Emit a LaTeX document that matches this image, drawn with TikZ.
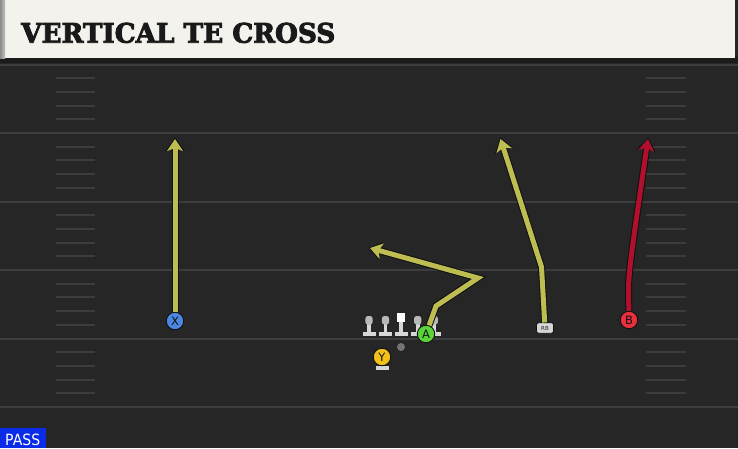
\documentclass[tikz,border=0pt]{standalone}
\usepackage{fontspec}
\usepackage{graphicx}
\usetikzlibrary{arrows.meta}
\newfontfamily\titlefont{DejaVu Serif Condensed Bold}[FakeBold=3]
\newfontfamily\labelfont{DejaVu Sans}
\definecolor{fieldbg}{HTML}{262626}
\definecolor{headerbg}{HTML}{F4F2EC}
\definecolor{headerdark}{HTML}{1B1B1B}
\definecolor{yardc}{HTML}{3D3D3D}
\definecolor{hashc}{HTML}{3C3C3C}
\definecolor{routeY}{HTML}{BDBD52}
\definecolor{routeR}{HTML}{B0102E}
\definecolor{xblue}{HTML}{4B86E0}
\definecolor{agreen}{HTML}{5BD43A}
\definecolor{yyellow}{HTML}{F2C21B}
\definecolor{bred}{HTML}{E8303F}
\definecolor{linegray}{HTML}{D6D6D6}
\definecolor{headgray}{HTML}{B8B8B8}
\definecolor{passblue}{HTML}{0A2BE8}
\definecolor{outl}{HTML}{101010}
\tikzset{
  yard/.style={draw=yardc, line width=2pt},
  hashmark/.style={draw=hashc, line width=2pt},
  player/.style={circle, minimum size=17.5pt, inner sep=0pt, draw=outl, line width=0.9pt,
    font=\labelfont\fontsize{11.5}{11.5}\selectfont, text=outl},
  routebase/.style={line width=5pt, line join=miter,
    -{Stealth[length=12pt,width=16pt,inset=3pt]},
    preaction={draw=outl, line width=7pt, -{Stealth[length=13.5pt,width=19pt,inset=3.3pt]}, shorten >=-1.4pt}},
  yroute/.style={routebase, draw=routeY},
  rroute/.style={routebase, draw=routeR},
  rbbox/.style={rectangle, rounded corners=2.5pt, fill=linegray, draw=outl, line width=0.6pt,
    minimum width=17pt, minimum height=10.5pt, inner sep=0pt,
    font=\labelfont\fontsize{5.5}{5.5}\selectfont, text=black!85},
  qbdot/.style={circle, fill=black!55, minimum size=8pt, inner sep=0pt},
  pics/lineman/.style={code={
    \fill[linegray] (-6.5,-2.2) rectangle (6.5,2.2);
    \fill[linegray] (-1.9,-13) rectangle (1.9,0);
    \fill[headgray, rounded corners=2.5pt] (-3.6,-18) rectangle (3.6,-9.5);
  }},
  pics/centerman/.style={code={
    \fill[linegray] (-6.5,-2.2) rectangle (6.5,2.2);
    \fill[linegray] (-1.9,-13) rectangle (1.9,0);
    \fill[white] (-4,-21) rectangle (4,-12.5);
  }},
}
\begin{document}
\begin{tikzpicture}[x=1pt,y=-1pt]
\useasboundingbox (0,0) rectangle (738,448);
% field
\fill[fieldbg] (0,0) rectangle (738,448);
% yard lines
\foreach \y in {64.5,133,201.5,270,338.5,407} \draw[yard] (0,\y) -- (738,\y);
% hash marks
\foreach \b in {64.5,133,201.5,270,338.5} {
  \foreach \k in {1,2,3,4} {
    \draw[hashmark] (56,{\b+13.7*\k}) -- (95,{\b+13.7*\k});
    \draw[hashmark] (646,{\b+13.7*\k}) -- (686,{\b+13.7*\k});
  }
}
% header
\fill[headerdark] (0,56) rectangle (738,63);
\fill[headerbg] (0,0) rectangle (735,58);
\fill[left color=black!45, right color=black!25] (0,0) rectangle (5,58);
\node[anchor=base west, inner sep=0pt, text=black!90] (title) at (21,42.7)
  {\resizebox{314pt}{20pt}{\titlefont VERTICAL TE CROSS}};
% linemen
\pic at (369,334) {lineman};
\pic at (385.5,334) {lineman};
\pic at (401,334) {centerman};
\pic at (417.7,334) {lineman};
\pic at (434.3,334) {lineman};
% Y base
\fill[linegray] (380.2,362) rectangle (383.8,367);
\fill[linegray] (375.5,366) rectangle (388.5,370.4);
% players
\node[player, fill=xblue] (X) at (175,321) {X};
\node[player, fill=agreen] (A) at (426,334) {A};
\node[player, fill=yyellow] (Y) at (382,357) {Y};
\node[player, fill=bred] (B) at (629,320) {B};
\node[rbbox] (RB) at (545,328) {RB};
\node[qbdot] (QB) at (401,347) {};
% route points
\coordinate (xend) at (175,139);
\coordinate (a1) at (436,306);
\coordinate (a2) at (478,278);
\coordinate (aend) at (370,248);
\coordinate (rb1) at (541.5,267);
\coordinate (rbend) at (500.5,139);
\coordinate (b1) at (628.5,292);
\coordinate (bend) at (648,139);
% routes
\draw[yroute] (X) -- (xend);
\draw[yroute] (A) -- (a1) -- (a2) -- (aend);
\draw[yroute] (RB) -- (rb1) -- (rbend);
\draw[rroute] (B) -- (b1) .. controls (628.5,272) and (631,255) .. (bend);
% pass tag
\fill[passblue] (0,427.5) rectangle (46,448);
\node[anchor=base west, inner sep=0pt, text=white] (pass) at (5,445)
  {\resizebox{35pt}{11.5pt}{\labelfont PASS}};
\end{tikzpicture}
\end{document}
